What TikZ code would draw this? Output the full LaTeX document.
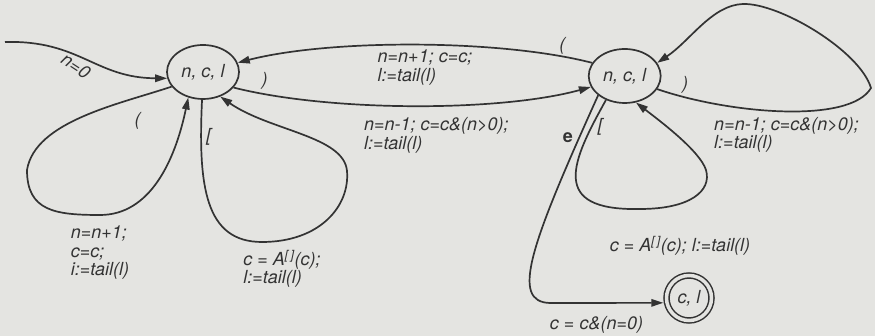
\documentclass[tikz,border=0pt]{standalone}
\usepackage{fontspec}
\setmainfont{TeX Gyre Heros}
\usetikzlibrary{arrows.meta,positioning,shapes.geometric}
\definecolor{Paper}{HTML}{E4E4E1}
\definecolor{Ink}{HTML}{333333}

\begin{document}
\begin{tikzpicture}[x=1pt,y=1pt,node distance=348pt,
        every node/.style={text=Ink,font=\itshape\fontsize{18}{18.5}\selectfont},
        state/.style={draw=Ink,line width=1.7pt,ellipse,minimum width=72pt,minimum height=54pt,inner sep=0pt},
        accept/.style={draw=Ink,line width=1.5pt,circle,double=Paper,double distance=3.5pt,minimum size=45pt,inner sep=0pt},
        trans/.style={draw=Ink,line width=1.7pt,-{Triangle[length=12pt,width=7.5pt]}},
        lbl/.style={align=left,inner sep=1pt}]
  \fill[Paper] (0,0) rectangle (875,336);
  \useasboundingbox (0,0) rectangle (875,336);
  \node[state] (outer) at (203,264) {n, c, l};
  \node[state,right=of outer,yshift=-4pt] (inner) {n, c, l};
  \node[accept] (final) at (689,38) {c, l};
  \coordinate (init) at (5,294);

  \draw[trans] (init) .. controls (80,296) and (95,258) .. (outer.190) node[pos=0.46,anchor=north,rotate=-33]{n=0};
  \draw[trans] (outer.205) .. controls (120,232) and (35,215) .. (27,166) node[pos=0.2,below=11pt]{(}
    .. controls (27,125) and (55,121) .. (100,121) node[lbl,below=9pt]{n=n+1;\\c=c;\\i:=tail(l)}
    .. controls (150,121) and (175,175) .. (outer.240);
  \draw[trans] (outer.268) .. controls (198,150) and (205,94) .. (262,94) node[pos=0.15,right=1pt]{[}
    node[lbl,below=6pt,xshift=20pt]{c = A\textsuperscript{[\,]}(c);\\l:=tail(l)}
    .. controls (320,94) and (350,130) .. (347,165)
    .. controls (344,200) and (270,205) .. (outer.305);
  \draw[trans] (inner.158) .. controls (500,297) and (330,297) .. (outer.15)
    node[pos=0.1,above=-2pt]{(} node[lbl,pos=0.5,below=3pt,xshift=10pt]{n=n+1; c=c;\\l:=tail(l)};
  \draw[trans] (outer.333) .. controls (330,224) and (500,224) .. (inner.198)
    node[pos=0.1,above=1pt]{)} node[lbl,pos=0.5,below=10pt,xshift=22pt]{n=n-1; c=c\&(n>0);\\l:=tail(l)};
  \draw[trans] (inner.338) .. controls (730,222) and (850,212) .. (871,248)
    node[pos=0.12,above=0pt]{)} node[lbl,pos=0.5,below=4pt,xshift=3pt]{n=n-1; c=c\&(n>0);\\l:=tail(l)}
    .. controls (860,285) and (780,333) .. (743,332)
    .. controls (712,331) and (690,295) .. (inner.22);
  \draw[trans] (inner.232) .. controls (572,175) and (548,125) .. (640,127) node[pos=0.15,right=2pt]{[}
    node[lbl,below=25pt,xshift=40pt]{c = A\textsuperscript{[\,]}(c); l:=tail(l)}
    .. controls (690,127) and (712,145) .. (706,166)
    .. controls (700,185) and (660,215) .. (inner.293);
  \draw[trans,shorten >=3pt] (inner.216) .. controls (530,90) and (510,34) .. (550,33) node[pos=0.1,left=2pt,font=\bfseries\fontsize{18}{18.5}\selectfont]{e}
    -- (final.192) node[lbl,pos=0.4,below=12pt]{c = c\&(n=0)};
\end{tikzpicture}
\end{document}
